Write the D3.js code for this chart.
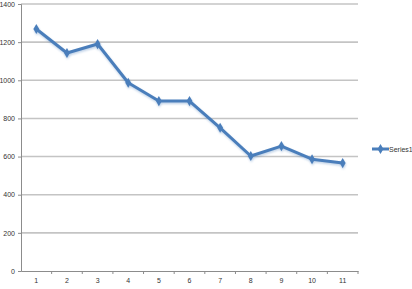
<!DOCTYPE html>
<html>
<head>
    <meta charset="UTF-8">
    <title>Series1</title>
    <style>
        body { margin: 0; background: #fff; }
        text { font-family: "Liberation Sans", Arial, sans-serif; fill: #333; }
    </style>
</head>
<body>
    <script src="https://d3js.org/d3.v7.min.js"></script>
    <svg width="412" height="289"></svg>
    <script>
        let svg = d3.select("svg");

        // chart data
        let categories = ["1", "2", "3", "4", "5", "6", "7", "8", "9", "10", "11"];
        let series1 = [1269, 1143, 1190, 987, 891, 891, 751, 603, 655, 586, 566];
        let y_ticks = [0, 200, 400, 600, 800, 1000, 1200, 1400];
        let series_name = "Series1";

        // plot area edges (window.top is reserved, so use other names)
        let plot_left = 21, plot_right = 358, plot_top = 4, plot_bottom = 271;
        let line_color = "#4a7ebb";

        let x = d3.scaleBand().domain(categories).range([plot_left, plot_right]);
        let y = d3.scaleLinear().domain([0, 1400]).range([plot_bottom, plot_top]);

        // soft shadow under the line like the original
        let defs = svg.append("defs");
        defs.append("filter").attr("id", "blur")
            .attr("x", "-20%").attr("y", "-20%").attr("width", "140%").attr("height", "140%")
            .append("feGaussianBlur").attr("stdDeviation", 1.2);

        // gridlines
        svg.append("g")
            .selectAll("line")
            .data(y_ticks.filter(d => d > 0))
            .enter().append("line")
            .attr("x1", plot_left).attr("x2", plot_right)
            .attr("y1", d => y(d)).attr("y2", d => y(d))
            .attr("stroke", "#c4c4c4")
            .attr("stroke-width", 1.6);

        // y axis
        let y_axis = svg.append("g")
            .attr("transform", `translate(${plot_left},0)`)
            .call(d3.axisLeft(y).tickValues(y_ticks).tickFormat(d3.format("d")).tickSize(3).tickPadding(3));
        y_axis.select(".domain").attr("stroke", "#8c8c8c");
        y_axis.selectAll(".tick line").attr("stroke", "#8c8c8c");
        y_axis.selectAll("text").attr("font-size", 7).attr("fill", "#222");

        // x axis, ticks between categories
        let x_axis = svg.append("g")
            .attr("transform", `translate(0,${plot_bottom})`)
            .call(d3.axisBottom(x).tickSize(0).tickPadding(7));
        x_axis.select(".domain").attr("stroke", "#8c8c8c");
        x_axis.selectAll("text").attr("font-size", 7).attr("fill", "#222");
        svg.append("g")
            .selectAll("line")
            .data(categories)
            .enter().append("line")
            .attr("x1", d => x(d) + x.bandwidth()).attr("x2", d => x(d) + x.bandwidth())
            .attr("y1", plot_bottom).attr("y2", plot_bottom + 3)
            .attr("stroke", "#8c8c8c");

        let line = d3.line()
            .x((d, i) => x(categories[i]) + x.bandwidth() / 2)
            .y(d => y(d));

        let diamond = d3.symbol().type(d3.symbolDiamond).size(30);

        function draw_series(g, filter) {
            g.append("path")
                .datum(series1)
                .attr("d", line)
                .attr("fill", "none")
                .attr("stroke", line_color)
                .attr("stroke-width", 3)
                .attr("stroke-linejoin", "round")
                .attr("filter", filter);
            g.selectAll("path.mark")
                .data(series1)
                .enter().append("path")
                .attr("class", "mark")
                .attr("d", diamond)
                .attr("transform", (d, i) => `translate(${x(categories[i]) + x.bandwidth() / 2},${y(d)})`)
                .attr("fill", line_color)
                .attr("filter", filter);
        }

        let shadow = svg.append("g").attr("opacity", 0.35).attr("transform", "translate(0.5,1.5)");
        draw_series(shadow, "url(#blur)");
        draw_series(svg.append("g"), null);

        // legend
        let legend = svg.append("g").attr("transform", "translate(372,149)");
        legend.append("line")
            .attr("x1", 0).attr("x2", 17).attr("y1", 0).attr("y2", 0)
            .attr("stroke", line_color).attr("stroke-width", 3);
        legend.append("path")
            .attr("d", diamond)
            .attr("transform", "translate(8.5,0)")
            .attr("fill", line_color);
        legend.append("text")
            .attr("x", 17).attr("y", 2.5)
            .attr("font-size", 7)
            .text(series_name);
    </script>
</body>
</html>
